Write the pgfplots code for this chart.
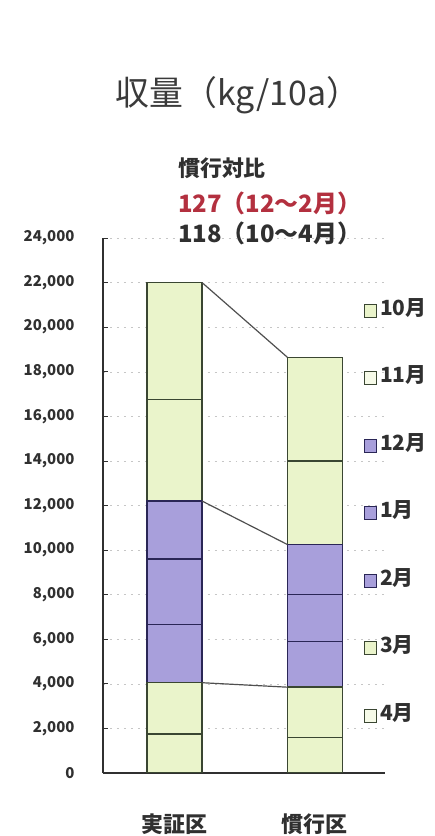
\documentclass[border=0pt]{standalone}
\usepackage{fontspec}
\setmainfont{Noto Sans CJK JP}
\usepackage{pgfplots}
\pgfplotsset{compat=1.18}
\definecolor{grn}{HTML}{EAF4CB}
\definecolor{grnpale}{HTML}{F6FAE8}
\definecolor{prp}{HTML}{A89FDB}
\definecolor{grnedge}{HTML}{3A4632}
\definecolor{prpedge}{HTML}{2A2656}
\definecolor{txt}{HTML}{303030}
\definecolor{redtxt}{HTML}{B3303F}
\begin{document}
\begin{tikzpicture}
\path[use as bounding box] (0,0) rectangle (435bp,836bp);
\pgfplotsset{
  base/.style={
    at={(103bp,63bp)}, anchor=south west,
    scale only axis, width=282bp, height=535bp,
    xmin=-0.51, xmax=1.5, ymin=0, ymax=24000,
  }
}
\begin{axis}[base,
    ybar stacked, bar width=55bp,
    axis x line*=bottom, axis y line*=left,
    axis line style={txt, line width=1.2pt},
    xtick={0,1}, xticklabels={実証区,慣行区},
    x tick style={draw=none},
    xticklabel style={font=\bfseries\fontsize{22}{22}\selectfont, text=txt, yshift=-37bp},
    ytick={0,2000,...,24000},
    scaled y ticks=false,
    tick align=inside, major tick length=5bp,
    y tick style={txt, line width=0.8pt},
    yticklabel style={font=\bfseries\fontsize{15}{15}\selectfont, text=txt, xshift=-25bp},
    /pgf/number format/.cd, fixed, precision=0, 1000 sep={,}, assume math mode=true,
    /pgfplots/.cd,
    ymajorgrids, grid style={dash pattern=on 2pt off 5pt, gray!45},
    legend cell align=left,
    legend style={draw=none, fill=none, at={(0.925,0.884)}, anchor=north west,
      text=txt, row sep=47.5bp, inner sep=0pt,
      nodes={font=\bfseries\fontsize{21}{21}\selectfont, text height=13bp, text depth=3bp,
        inner ysep=2bp, inner xsep=3bp}},
    legend image code/.code={\draw[#1, line width=1pt, fill opacity=1] (0bp,-7bp) rectangle (12bp,6bp);},
  ]
  \addplot[fill=grn, draw=grnedge, line width=1.4pt] coordinates {(0,1750) (1,1600)};
  \addlegendentry{10月}
  \addplot[fill=grn, draw=grnedge, line width=1.4pt, legend image post style={fill=grnpale}] coordinates {(0,2300) (1,2250)};
  \addlegendentry{11月}
  \addplot[fill=prp, draw=prpedge, line width=1.4pt] coordinates {(0,2600) (1,2050)};
  \addlegendentry{12月}
  \addplot[fill=prp, draw=prpedge, line width=1.4pt] coordinates {(0,2950) (1,2100)};
  \addlegendentry{1月}
  \addplot[fill=prp, draw=prpedge, line width=1.4pt] coordinates {(0,2600) (1,2250)};
  \addlegendentry{2月}
  \addplot[fill=grn, draw=grnedge, line width=1.4pt] coordinates {(0,4550) (1,3750)};
  \addlegendentry{3月}
  \addplot[fill=grn, draw=grnedge, line width=1.4pt, legend image post style={fill=grnpale}] coordinates {(0,5250) (1,4650)};
  \addlegendentry{4月}
\end{axis}
\begin{axis}[base, axis lines=none, ticks=none]
  \addplot[txt!85, line width=1.2pt, sharp plot] coordinates {(0.196,22000) (0.804,18650)};
  \addplot[txt!85, line width=1.2pt, sharp plot] coordinates {(0.196,12200) (0.804,10250)};
  \addplot[txt!85, line width=1.2pt, sharp plot] coordinates {(0.196,4050) (0.804,3850)};
\end{axis}
\node[text=txt!95, font=\fontsize{34}{34}\selectfont] at (238bp,741bp) {収量（kg/10a）};
\node[anchor=west, text=txt, font=\bfseries\fontsize{22}{22}\selectfont, inner sep=0pt] at (178bp,668bp) {慣行対比};
\node[anchor=west, text=redtxt, font=\bfseries\fontsize{24}{24}\selectfont, inner sep=0pt] at (178bp,633bp) {127（12～2月）};
\node[anchor=west, text=txt, font=\bfseries\fontsize{24}{24}\selectfont, inner sep=0pt] at (178bp,603bp) {118（10～4月）};
\end{tikzpicture}
\end{document}
